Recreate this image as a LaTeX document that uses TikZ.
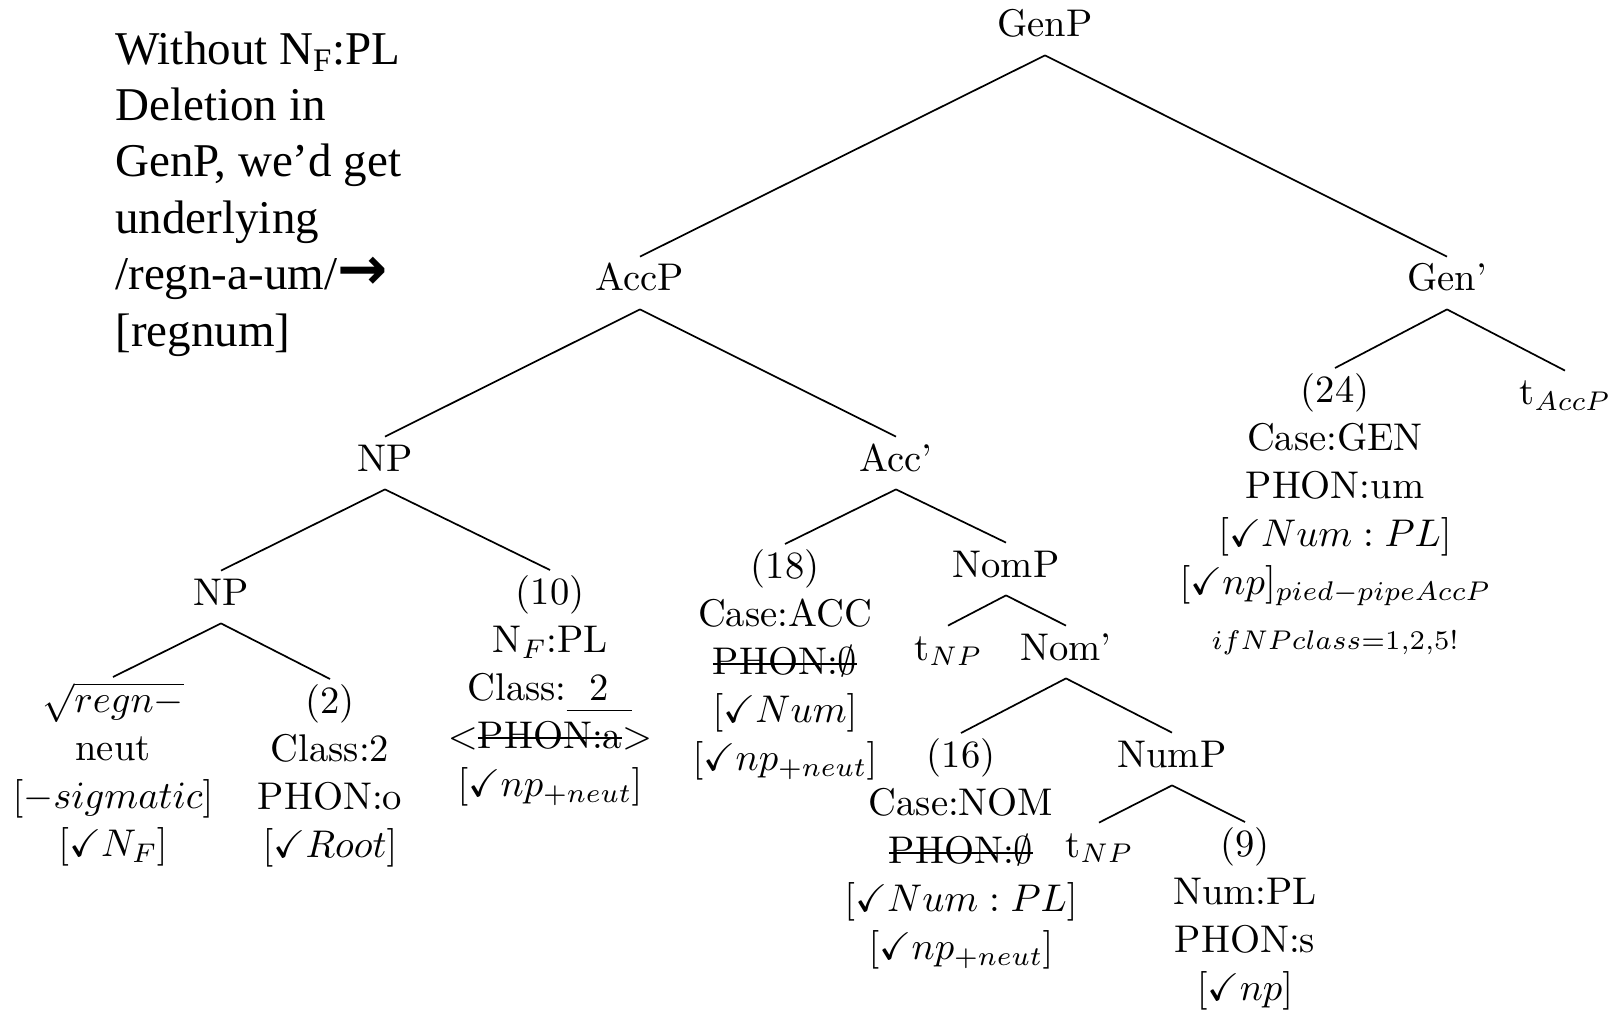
\RequirePackage{fix-cm}
\documentclass[tikz,border=0pt]{standalone}
\usepackage{amssymb}
\usepackage{fontspec}
\setmainfont{lmroman10-regular.otf}[ItalicFont=lmroman10-italic.otf, BoldFont=lmroman10-bold.otf]
% math fonts: design sizes 10/7/5 scaled up for text, script and scriptscript
\DeclareFontShape{OML}{cmm}{m}{it}{<-11>cmmi5<11-16>cmmi7<16->cmmi10}{\skewchar\font=127}
\DeclareFontShape{OMS}{cmsy}{m}{n}{<-11>cmsy5<11-16>cmsy7<16->cmsy10}{\skewchar\font=48}
\DeclareFontShape{OT1}{cmr}{m}{n}{<-11>cmr5<11-16>cmr7<16->cmr10}{}
\newfontfamily\notefont{Liberation Serif}
\newfontfamily\arrowfont{DejaVu Sans}
\newcommand\treefont{\fontsize{19.3pt}{24pt}\selectfont}
% struck-through text: a rule laid over the boxed argument
\newsavebox\strikebox
\newcommand\struck[1]{\sbox\strikebox{#1}\rlap{\rule[0.25em]{\wd\strikebox}{0.9pt}}\usebox\strikebox}
% a branch runs from below the parent's baseline to just above the child's top
\newcommand\branch[2]{\draw[branchline] ([yshift=-9pt]#1.south) -- ([yshift=2.5pt]#2.north);}
\tikzset{
  cat/.style={inner sep=0pt, anchor=base, text height=14.5pt, text depth=0pt, font=\treefont},
  feat/.style={inner sep=0pt, anchor=north, align=center, font=\treefont},
  branchline/.style={line width=0.85pt},
}
\begin{document}
\begin{tikzpicture}[x=0.5pt,y=-0.5pt]
\useasboundingbox[fill=white] (0,0) rectangle (1618,1016);

% side note
\node[anchor=north west, align=left, inner sep=0pt,
      font=\notefont\fontsize{23.5pt}{28.2pt}\selectfont] (note) at (115,31)
  {Without N\textsubscript{F}:PL\\Deletion in\\GenP, we’d get\\underlying\\/regn-a-um/{\arrowfont\bfseries\fontsize{30pt}{28pt}\selectfont →}\\{[}regnum{]}};

% category nodes
\node[cat] (genp)   at (1045,37)  {GenP};
\node[cat] (accp)   at (640,291)  {AccP};
\node[cat] (genbar) at (1447,291) {Gen’};
\node[cat] (np1)    at (385,471)  {NP};
\node[cat] (accbar) at (896,471)  {Acc’};
\node[cat] (np2)    at (221,605)  {NP};
\node[cat] (nomp)   at (1006,577) {NomP};
\node[cat] (tnp1)   at (948,660)  {t$_{NP}$};
\node[cat] (nombar) at (1066,660) {Nom’};
\node[cat] (nump)   at (1172,767) {NumP};
\node[cat] (tnp2)   at (1099,857) {t$_{NP}$};
\node[cat] (taccp)  at (1565,405) {t$_{AccP}$};

% feature bundles
\node[feat] (root) at (113,682)
  {$\sqrt{regn-}$\\neut\\$[-sigmatic]$\\$[\checkmark N_F]$};
\node[feat] (two) at (330,684)
  {(2)\\Class:2\\PHON:o\\$[\checkmark Root]$};
\node[feat] (ten) at (550,575)
  {(10)\\N$_F$:PL\\Class:\underline{\hspace{0.6em}2\hspace{0.6em}\rule[-0.12em]{0pt}{0pt}}\\$<$\struck{PHON:a}$>$\\$[\checkmark np_{+neut}]$};
\node[feat] (eighteen) at (785,549)
  {(18)\\Case:ACC\\\struck{PHON:$\emptyset$}\\$[\checkmark Num]$\\$[\checkmark np_{+neut}]$};
\node[feat] (sixteen) at (961,738)
  {(16)\\Case:NOM\\\struck{PHON:$\emptyset$}\\$[\checkmark Num:PL]$\\$[\checkmark np_{+neut}]$};
\node[feat] (nine) at (1245,827)
  {(9)\\Num:PL\\PHON:s\\$[\checkmark np]$};
\node[feat] (tf) at (1335,373)
  {(24)\\Case:GEN\\PHON:um\\$[\checkmark Num:PL]$\\$[\checkmark np]_{pied-pipe AccP}$\\[3.5pt]$\scriptstyle ifNPclass=1,2,5!$};

% branches
\branch{genp}{accp}
\branch{genp}{genbar}
\branch{accp}{np1}
\branch{accp}{accbar}
\branch{genbar}{tf}
\branch{genbar}{taccp}
\branch{np1}{np2}
\branch{np1}{ten}
\branch{accbar}{eighteen}
\branch{accbar}{nomp}
\branch{np2}{root}
\branch{np2}{two}
\branch{nomp}{tnp1}
\branch{nomp}{nombar}
\branch{nombar}{sixteen}
\branch{nombar}{nump}
\branch{nump}{tnp2}
\branch{nump}{nine}
\end{tikzpicture}
\end{document}
